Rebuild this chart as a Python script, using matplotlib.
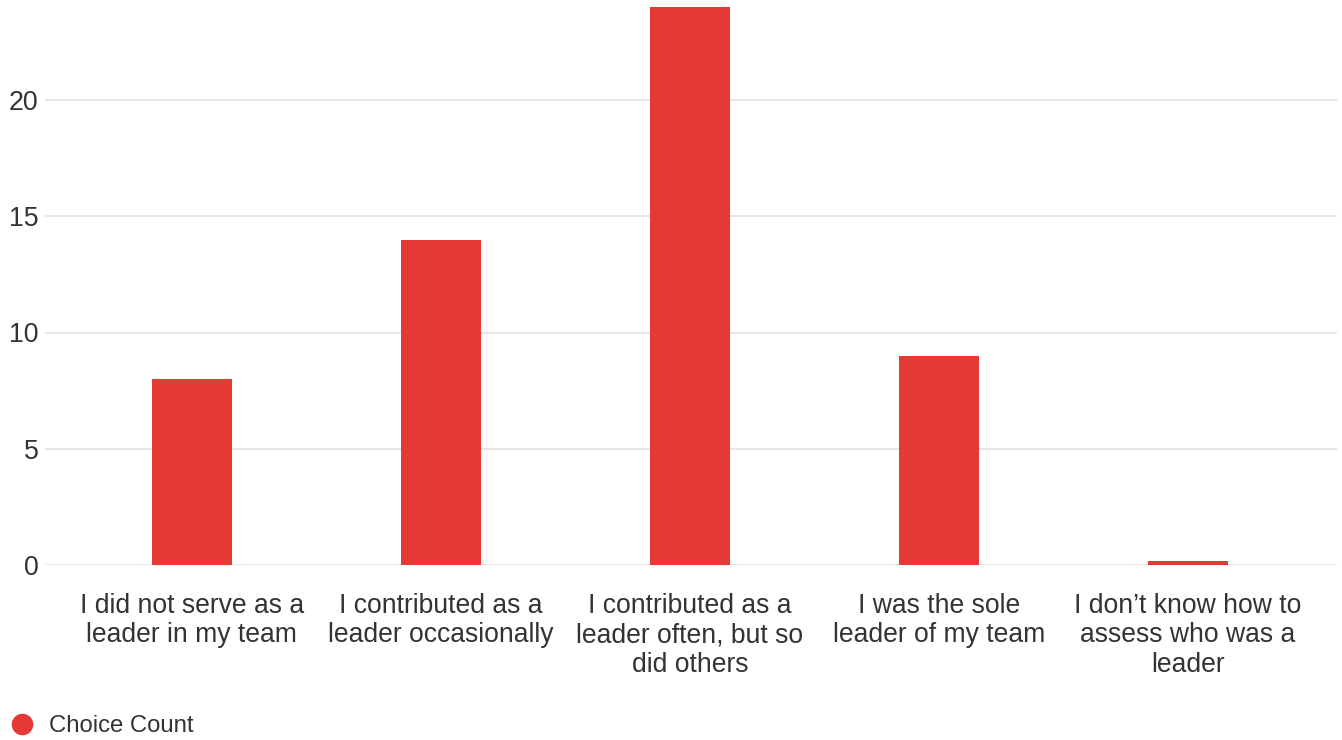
import matplotlib
matplotlib.use("Agg")
import matplotlib.pyplot as plt
import numpy as np
from matplotlib.lines import Line2D

categories = [
    "I did not serve as a\nleader in my team",
    "I contributed as a\nleader occasionally",
    "I contributed as a\nleader often, but so\ndid others",
    "I was the sole\nleader of my team",
    "I don\u2019t know how to\nassess who was a\nleader",
]
values = [8, 14, 24, 9, 0]
yticks = [0, 5, 10, 15, 20]
series_name = "Choice Count"

BAR_COLOR = "#E53935"
TEXT_COLOR = "#333333"
GRID_COLOR = "#E6E6E6"
MIN_STUB = 0.17

plt.rcParams['font.family'] = ['Liberation Sans', 'DejaVu Sans']

W, H = 1342, 740
fig = plt.figure(figsize=(W / 100, H / 100), dpi=100)
ax = fig.add_axes([45 / W, 175 / H, (1337 - 45) / W, (565 - 7) / H])

x = np.arange(len(categories))
heights = np.maximum(np.array(values, dtype=float), MIN_STUB)
ax.bar(x, heights, width=0.323, color=BAR_COLOR, zorder=3)

ax.set_xlim(-0.59, 4.598)
ax.set_ylim(0, 24)
ax.set_yticks(yticks)
ax.set_yticklabels([str(t) for t in yticks], fontsize=19.3, color=TEXT_COLOR)
ax.yaxis.grid(True, color=GRID_COLOR, linewidth=1.4, zorder=0)
ax.tick_params(axis='y', length=0, pad=4.5)
ax.set_xticks(x)
ax.set_xticklabels(categories, fontsize=19.1, color=TEXT_COLOR, linespacing=1.17)
ax.tick_params(axis='x', length=0, pad=20)
for s in ax.spines.values():
    s.set_visible(False)

handle = Line2D([0], [0], marker='o', color='none', markerfacecolor=BAR_COLOR,
                markeredgecolor=BAR_COLOR, markersize=14.5)
fig.legend([handle], [series_name], loc='center left',
           bbox_to_anchor=(10 / W, 1 - 726 / H), frameon=False,
           fontsize=17.2, labelcolor=TEXT_COLOR, handletextpad=0.65,
           handlelength=1.0, borderaxespad=0, borderpad=0)

fig.savefig("out.png", dpi=100)
